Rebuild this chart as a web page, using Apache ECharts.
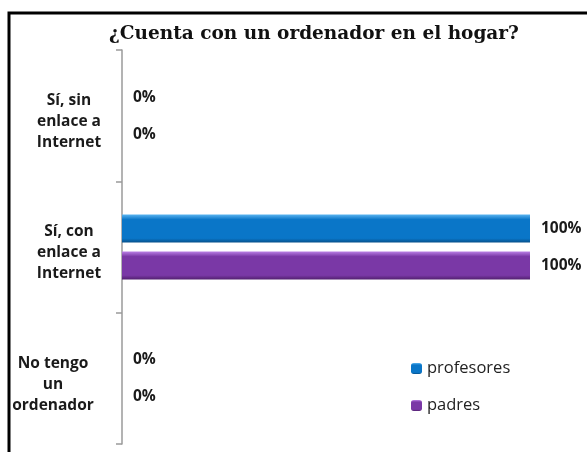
<!DOCTYPE html>
<html lang="es">
<head>
    <meta charset="UTF-8">
    <title>¿Cuenta con un ordenador en el hogar?</title>
    <style>
        html, body { margin: 0; padding: 0; background: #fff; }
        #grafico { width: 587px; height: 452px; }
    </style>
</head>
<body>
<div id="grafico"></div>
<script src="https://cdn.jsdelivr.net/npm/echarts@6/dist/echarts.min.js"></script>
<script>
    // datos del grafico
    var categorias = ['Sí, sin\nenlace a\nInternet', 'Sí, con\nenlace a\nInternet', 'No tengo\nun\nordenador'];
    var series = ['profesores', 'padres'];
    var profesores = [0, 100, 0];
    var padres = [0, 100, 0];

    // colores con un poco de relieve (arriba claro, centro, borde oscuro)
    function relieve(claro, medio, oscuro) {
        return new echarts.graphic.LinearGradient(0, 0, 0, 1, [
            {offset: 0, color: claro},
            {offset: 0.18, color: medio},
            {offset: 0.85, color: medio},
            {offset: 1, color: oscuro}
        ]);
    }
    var azul = relieve('#5ab4f0', '#0a76c8', '#06508a');
    var morado = relieve('#bb80e6', '#7a38a6', '#52206f');

    var estiloEje = {
        align: 'center',
        fontFamily: 'Open Sans',
        fontWeight: 'bold',
        fontSize: 15.5,
        lineHeight: 21,
        color: '#1a1a1a',
        rich: {e: {lineHeight: 12, fontSize: 1}}
    };
    // la ultima etiqueta del eje esta algo mas a la izquierda en el original
    var ejeY = categorias.map(function (c, i) {
        var st = Object.assign({}, estiloEje, {padding: i == 2 ? [0, 32, 0, 0] : 0});
        return {value: c, textStyle: st};
    });

    var myChart = echarts.init(document.getElementById('grafico'));
    var etiqueta = {
        show: true,
        position: 'right',
        distance: 11,
        formatter: '{c}%',
        fontFamily: 'Open Sans',
        fontWeight: 'bold',
        fontSize: 15.5,
        color: '#1a1a1a'
    };
    var option = {
        animation: false,
        title: {
            text: '¿Cuenta con un ordenador en el hogar?',
            left: 104,
            top: 20,
            textStyle: {
                fontFamily: 'DejaVu Serif',
                fontWeight: 'bold',
                fontSize: 18.5,
                color: '#111'
            }
        },
        legend: {
            data: series,
            orient: 'vertical',
            left: 406,
            top: 355,
            itemWidth: 11,
            itemHeight: 11,
            itemGap: 20,
            textStyle: {fontFamily: 'Open Sans', fontSize: 16.5, color: '#222'}
        },
        grid: {left: 122, right: 57, top: 50, bottom: 8, containLabel: false, outerBoundsMode: 'none'},
        xAxis: {
            type: 'value',
            min: 0,
            max: 100,
            show: false
        },
        yAxis: {
            type: 'category',
            inverse: true,
            data: ejeY,
            axisLine: {lineStyle: {color: '#9a9a9a', width: 1.5}},
            axisTick: {show: true, length: 6, lineStyle: {color: '#9a9a9a', width: 1.5}},
            axisLabel: Object.assign({
                margin: 53,
                // una linea vacia arriba baja el bloque de texto unos pixeles
                formatter: function (v) { return '{e| }\n' + v; }
            }, estiloEje)
        },
        series: [{
            name: 'profesores',
            type: 'bar',
            data: profesores,
            barWidth: 28,
            barGap: '32%',
            itemStyle: {color: azul},
            label: etiqueta
        }, {
            name: 'padres',
            type: 'bar',
            data: padres,
            barWidth: 28,
            itemStyle: {color: morado},
            label: etiqueta
        }],
        graphic: [{
            // marco del grafico
            type: 'polyline',
            shape: {points: [[9, 452], [9, 13], [587, 13]]},
            style: {stroke: '#000', lineWidth: 3, fill: null}
        }]
    };
    myChart.setOption(option);
</script>
</body>
</html>
